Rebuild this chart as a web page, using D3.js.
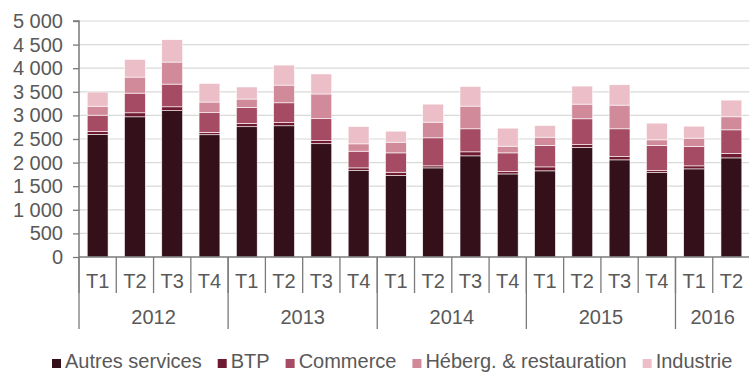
<!DOCTYPE html>
<html>
<head>
<meta charset="utf-8">
<script src="https://cdn.jsdelivr.net/npm/d3@7"></script>
<style>
  html, body { margin: 0; padding: 0; background: #fff; }
  svg { display: block; font-family: "Liberation Sans", Arial, sans-serif; }
</style>
</head>
<body>
<svg id="chart" width="749" height="372"></svg>
<script>
// Quarterly values, 2012 T1 – 2016 T2
const quarters = ["T1","T2","T3","T4","T1","T2","T3","T4","T1","T2","T3","T4","T1","T2","T3","T4","T1","T2"];
const years = ["2012","2013","2014","2015","2016"];
const quartersPerYear = [4, 4, 4, 4, 2];

const autresServices = [2595, 2970, 3100, 2590, 2760, 2780, 2400, 1830, 1726, 1888, 2143, 1760, 1825, 2320, 2058, 1789, 1867, 2100];
const btp            = [  65,   85,   82,   50,   70,   70,   64,   58,   70,   43,   85,   50,   84,   63,   71,   43,   64,   92];
const commerce       = [ 345,  417,  481,  417,  340,  417,  467,  354,  410,  594,  488,  396,  453,  545,  587,  530,  410,  502];
const hebergRestau   = [ 190,  340,  467,  226,  177,  375,  523,  155,  227,  332,  481,  142,  177,  311,  502,  120,  177,  276];
const industrie      = [ 300,  375,  474,  396,  255,  424,  424,  368,  233,  382,  417,  382,  247,  382,  431,  354,  254,  354];

const seriesNames = ["Autres services", "BTP", "Commerce", "Héberg. & restauration", "Industrie"];
const seriesColors = ["#33101a", "#6e1a30", "#a54c64", "#d08a9a", "#ebbec8"];
const yTicks = [0, 500, 1000, 1500, 2000, 2500, 3000, 3500, 4000, 4500, 5000];

const seriesValues = [autresServices, btp, commerce, hebergRestau, industrie];
const rows = quarters.map((q, i) => {
  const r = { idx: i };
  seriesNames.forEach((s, k) => { r[s] = seriesValues[k][i]; });
  return r;
});

const svg = d3.select("#chart");
const margin = { left: 79, top: 21, bottom: 257 };
const nBars = quarters.length;
const step = 37.28;

const x = d3.scaleBand()
  .domain(d3.range(nBars))
  .range([margin.left, margin.left + step * nBars])
  .paddingInner(0.44)
  .paddingOuter(0.22);

const y = d3.scaleLinear().domain([0, 5000]).range([margin.bottom, margin.top]);

const textColor = "#595959";
const axisColor = "#7a7a7a";

// gridlines
svg.append("g")
  .selectAll("line")
  .data(yTicks.filter(t => t > 0))
  .join("line")
  .attr("x1", margin.left).attr("x2", 749)
  .attr("y1", d => y(d)).attr("y2", d => y(d))
  .attr("stroke", "#d9d9d9").attr("stroke-width", 1.2);

// y axis
const yAxis = d3.axisLeft(y)
  .tickValues(yTicks)
  .tickSize(6)
  .tickPadding(10)
  .tickFormat(d => d3.format(",")(d).replace(/,/g, " "));
const gy = svg.append("g").attr("transform", `translate(${margin.left},0)`).call(yAxis);
gy.select(".domain").attr("stroke", axisColor).attr("stroke-width", 1.5).attr("d", `M-6,${y(5000)}H0V${y(0)}`);
gy.selectAll(".tick line").attr("stroke", axisColor).attr("stroke-width", 1.3);
gy.selectAll(".tick text")
  .attr("fill", textColor)
  .style("font-size", "20px")
  .style("font-family", "'Liberation Sans', Arial, sans-serif");

// stacked bars
const stack = d3.stack().keys(seriesNames);
const stacked = stack(rows);
const color = d3.scaleOrdinal().domain(seriesNames).range(seriesColors);

svg.append("g")
  .selectAll("g")
  .data(stacked)
  .join("g")
  .attr("fill", d => color(d.key))
  .selectAll("rect")
  .data(d => d)
  .join("rect")
  .attr("x", d => x(d.data.idx))
  .attr("width", x.bandwidth())
  .attr("y", d => y(d[1]))
  .attr("height", d => y(d[0]) - y(d[1]))
  .attr("stroke", "#ffffff")
  .attr("stroke-width", 0.6);

// category axis: baseline, quarter labels and year groups
const gx = svg.append("g");
gx.append("line")
  .attr("x1", margin.left).attr("x2", 749)
  .attr("y1", y(0)).attr("y2", y(0))
  .attr("stroke", axisColor).attr("stroke-width", 1.5);

// left edge of the i-th band (i may equal nBars for the closing edge)
const bandStart = i => x.range()[0] + i * x.step();

// quarter separators
gx.selectAll("line.q")
  .data(d3.range(nBars + 1))
  .join("line")
  .attr("class", "q")
  .attr("x1", i => bandStart(i)).attr("x2", i => bandStart(i))
  .attr("y1", y(0)).attr("y2", 293)
  .attr("stroke", axisColor).attr("stroke-width", 1.3);

gx.selectAll("text.q")
  .data(quarters)
  .join("text")
  .attr("class", "q")
  .attr("x", (d, i) => bandStart(i) + x.step() / 2)
  .attr("y", 288)
  .attr("text-anchor", "middle")
  .attr("fill", textColor)
  .style("font-size", "20px")
  .text(d => d);

// year groups
const groupStarts = [];
let acc = 0;
quartersPerYear.forEach(n => { groupStarts.push(acc); acc += n; });
groupStarts.push(acc);

gx.selectAll("line.y")
  .data(groupStarts)
  .join("line")
  .attr("class", "y")
  .attr("x1", i => bandStart(i)).attr("x2", i => bandStart(i))
  .attr("y1", y(0)).attr("y2", 329)
  .attr("stroke", axisColor).attr("stroke-width", 1.3);

gx.selectAll("text.y")
  .data(years)
  .join("text")
  .attr("class", "y")
  .attr("x", (d, i) => (bandStart(groupStarts[i]) + bandStart(groupStarts[i + 1])) / 2)
  .attr("y", 324)
  .attr("text-anchor", "middle")
  .attr("fill", textColor)
  .style("font-size", "20px")
  .text(d => d);

// legend
const legend = svg.append("g");
let lx = 52;
seriesNames.forEach((name, k) => {
  const item = legend.append("g").attr("transform", `translate(${lx},0)`);
  item.append("rect")
    .attr("x", 0).attr("y", 359)
    .attr("width", 9).attr("height", 9)
    .attr("fill", seriesColors[k]);
  const t = item.append("text")
    .attr("x", 13)
    .attr("y", 368)
    .attr("fill", textColor)
    .style("font-size", "20px")
    .text(name);
  lx += 13 + t.node().getComputedTextLength() + 16;
});
</script>
</body>
</html>
